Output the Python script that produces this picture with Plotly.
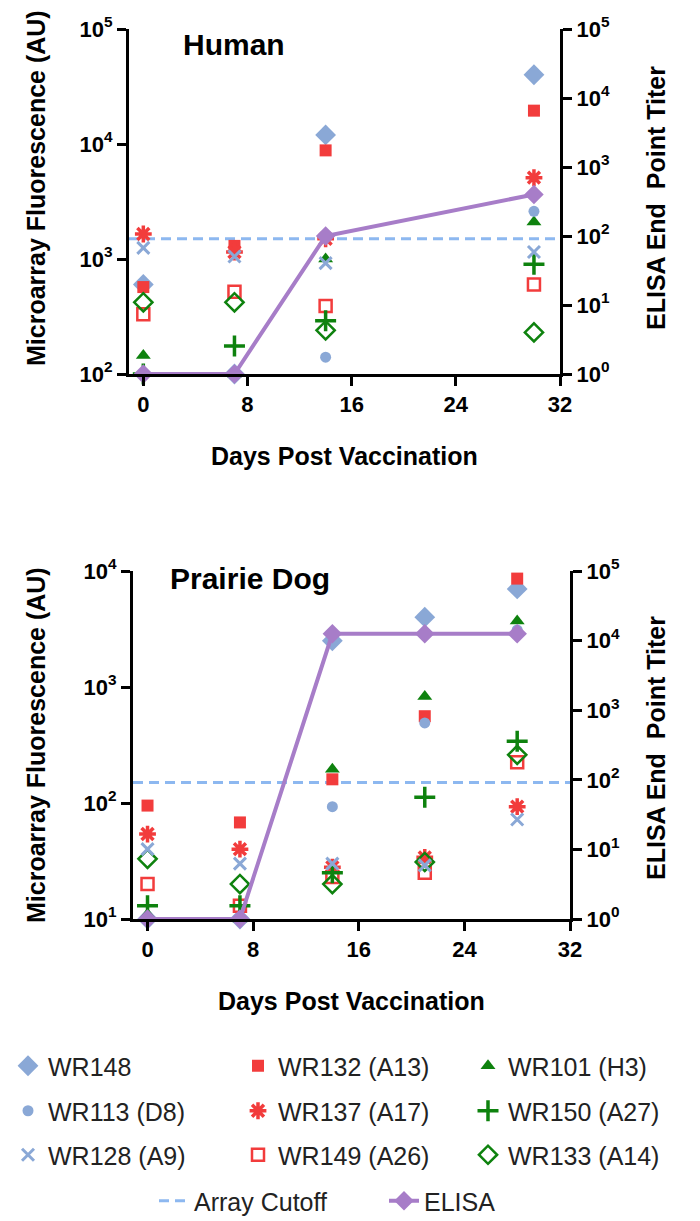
import plotly.graph_objects as go

# ---------------- data ----------------
days_human = [0, 7, 14, 30]
human_wr148 = [600, 100, 12000, 40000]
human_wr113 = [100, 100, 140, 2600]
human_wr128 = [1250, 1050, 920, 1150]
human_wr132 = [570, 1300, 8800, 19500]
human_wr137 = [1650, 1150, 1500, 5100]
human_wr149 = [330, 520, 390, 600]
human_wr101 = [145, 100, 1000, 2100]
human_wr150 = [100, 175, 290, 900]
human_wr133 = [420, 420, 240, 230]
human_elisa = [1, 1, 100, 400]
human_cutoff = 1500

days_pd = [0, 7, 14, 21, 28]
pd_wr148 = [10, 10, 2500, 4000, 7000]
pd_wr113 = [10, 10, 93, 490, 3100]
pd_wr128 = [40, 30, 30, 29, 72]
pd_wr132 = [95, 68, 160, 560, 8600]
pd_wr137 = [54, 40, 28, 34, 93]
pd_wr149 = [20, 13, 23, 25, 225]
pd_wr101 = [11, 10, 195, 830, 3700]
pd_wr150 = [13, 13, 25, 112, 340]
pd_wr133 = [33, 20, 20, 31, 260]
pd_elisa = [1, 1, 12500, 12500, 12500]
pd_cutoff = 150

x_ticks = [0, 8, 16, 24, 32]
x_range = [-1.1, 32]

# ---------------- styling ----------------
W, H = 700, 1221
def fx(p):
    return p / W
def fy(p):
    return 1 - p / H

LB = "#8AA8D6"
RED = "#F23C3C"
GRN = "#0E820E"
PUR = "#A77DC8"
CUT = "#8DB8F0"
FONT = "Liberation Sans"

# name, human, pd, symbol, color, size, linewidth, legend, rank
series = [
    ("WR148", human_wr148, pd_wr148, "diamond", LB, 16, 0, "legend", 1),
    ("WR101 (H3)", human_wr101, pd_wr101, "triangle-up", GRN, 13, 0, "legend", 3),
    ("WR132 (A13)", human_wr132, pd_wr132, "square", RED, 12, 0, "legend", 2),
    ("WR137 (A17)", human_wr137, pd_wr137, "asterisk-open", RED, 14, 3.5, "legend2", 2),
    ("WR149 (A26)", human_wr149, pd_wr149, "square-open", RED, 12, 2.5, "legend3", 2),
    ("WR133 (A14)", human_wr133, pd_wr133, "diamond-open", GRN, 14, 2.5, "legend3", 3),
    ("WR150 (A27)", human_wr150, pd_wr150, "cross-thin-open", GRN, 15, 3.5, "legend2", 3),
    ("WR113 (D8)", human_wr113, pd_wr113, "circle", LB, 11, 0, "legend2", 1),
    ("WR128 (A9)", human_wr128, pd_wr128, "x-thin-open", LB, 12, 3, "legend3", 1),
]

fig = go.Figure()

# cutoff lines
fig.add_trace(go.Scatter(x=x_range, y=[human_cutoff, human_cutoff], mode="lines",
                         line=dict(color=CUT, width=3, dash="10px,6px"),
                         name="Array Cutoff", legend="legend4", legendrank=1,
                         legendgroup="cut", xaxis="x", yaxis="y", cliponaxis=False))
fig.add_trace(go.Scatter(x=x_range, y=[pd_cutoff, pd_cutoff], mode="lines",
                         line=dict(color=CUT, width=3, dash="10px,6px"),
                         name="Array Cutoff", legendgroup="cut", showlegend=False,
                         xaxis="x2", yaxis="y3", cliponaxis=False))

# ELISA
fig.add_trace(go.Scatter(x=days_human, y=human_elisa, mode="lines+markers",
                         line=dict(color=PUR, width=4),
                         marker=dict(symbol="diamond", size=15, color=PUR),
                         name="ELISA", legend="legend4", legendrank=2, legendgroup="elisa",
                         xaxis="x", yaxis="y2", cliponaxis=False))
fig.add_trace(go.Scatter(x=days_pd, y=pd_elisa, mode="lines+markers",
                         line=dict(color=PUR, width=4),
                         marker=dict(symbol="diamond", size=15, color=PUR),
                         name="ELISA", legendgroup="elisa", showlegend=False,
                         xaxis="x2", yaxis="y4", cliponaxis=False))

for name, hv, pv, sym, col, size, lw, leg, rank in series:
    mk = dict(symbol=sym, size=size, color=col, line=dict(color=col, width=lw))
    fig.add_trace(go.Scatter(x=days_human, y=hv, mode="markers", marker=mk,
                             name=name, legend=leg, legendrank=rank, legendgroup=name,
                             xaxis="x", yaxis="y", cliponaxis=False))
    fig.add_trace(go.Scatter(x=days_pd, y=pv, mode="markers", marker=mk,
                             name=name, legendgroup=name, showlegend=False,
                             xaxis="x2", yaxis="y3", cliponaxis=False))

tickfont = dict(family=FONT, size=22, color="black", weight="bold")

def sup_labels(vals):
    return ["10<sup>%d</sup>" % len(str(v)[1:]) for v in vals]

axis_common = dict(showline=True, linewidth=3, linecolor="black", ticks="outside",
                   ticklen=9, tickwidth=3, tickcolor="black", showgrid=False,
                   zeroline=False, tickfont=tickfont)

left_top_vals = [100, 1000, 10000, 100000]
right_vals = [1, 10, 100, 1000, 10000, 100000]
left_bot_vals = [10, 100, 1000, 10000]

top_dom_x = [fx(121), fx(552)]
top_dom_y = [fy(366), fy(21)]
bot_dom_x = [fx(125), fx(562)]
bot_dom_y = [fy(911), fy(563)]

fig.update_layout(
    width=W, height=H,
    margin=dict(l=0, r=0, t=0, b=0, autoexpand=False),
    paper_bgcolor="white", plot_bgcolor="white",
    font=dict(family=FONT, color="black"),
    xaxis=dict(domain=top_dom_x, range=x_range, tickvals=x_ticks, anchor="y", **axis_common),
    yaxis=dict(domain=top_dom_y, type="log", range=[2, 5], tickvals=left_top_vals,
               ticktext=sup_labels(left_top_vals), anchor="x", **axis_common),
    yaxis2=dict(type="log", range=[0, 5], tickvals=right_vals, ticktext=sup_labels(right_vals),
                overlaying="y", side="right", anchor="x", **axis_common),
    xaxis2=dict(domain=bot_dom_x, range=x_range, tickvals=x_ticks, anchor="y3", **axis_common),
    yaxis3=dict(domain=bot_dom_y, type="log", range=[1, 4], tickvals=left_bot_vals,
                ticktext=sup_labels(left_bot_vals), anchor="x2", **axis_common),
    yaxis4=dict(type="log", range=[0, 5], tickvals=right_vals, ticktext=sup_labels(right_vals),
                overlaying="y3", side="right", anchor="x2", **axis_common),
)

legfont = dict(family=FONT, size=25, color="#222222")
legbase = dict(orientation="h", xanchor="left", yanchor="middle", entrywidth=185,
               entrywidthmode="pixels", font=legfont, bgcolor="rgba(0,0,0,0)",
               itemclick=False, itemdoubleclick=False, traceorder="normal")
fig.update_layout(
    legend=dict(x=0, y=fy(1058), **legbase),
    legend2=dict(x=0, y=fy(1103), **legbase),
    legend3=dict(x=0, y=fy(1147), **legbase),
    legend4=dict(x=fx(146), y=fy(1193), **legbase),
)

title_font = dict(family=FONT, size=25, color="black", weight="bold")
big_font = dict(family=FONT, size=30, color="black", weight="bold")
ann = []
ann.append(dict(text="Human", x=fx(226), y=fy(37), font=big_font))
ann.append(dict(text="Prairie Dog", x=fx(242), y=fy(570), font=big_font))
ann.append(dict(text="Microarray Fluorescence (AU)", x=fx(28), y=fy(180), textangle=-90, font=title_font))
ann.append(dict(text="Microarray Fluorescence (AU)", x=fx(28), y=fy(737), textangle=-90, font=title_font))
ann.append(dict(text="ELISA End\u00a0 Point Titer", x=fx(648), y=fy(190), textangle=-90, font=title_font))
ann.append(dict(text="ELISA End\u00a0 Point Titer", x=fx(648), y=fy(740), textangle=-90, font=title_font))
ann.append(dict(text="Days Post Vaccination", x=fx(336), y=fy(448), font=title_font))
ann.append(dict(text="Days Post Vaccination", x=fx(343), y=fy(993), font=title_font))
for a in ann:
    a.update(xref="paper", yref="paper", showarrow=False, xanchor="center", yanchor="middle")
fig.update_layout(annotations=ann)

fig.write_html("out.html")
